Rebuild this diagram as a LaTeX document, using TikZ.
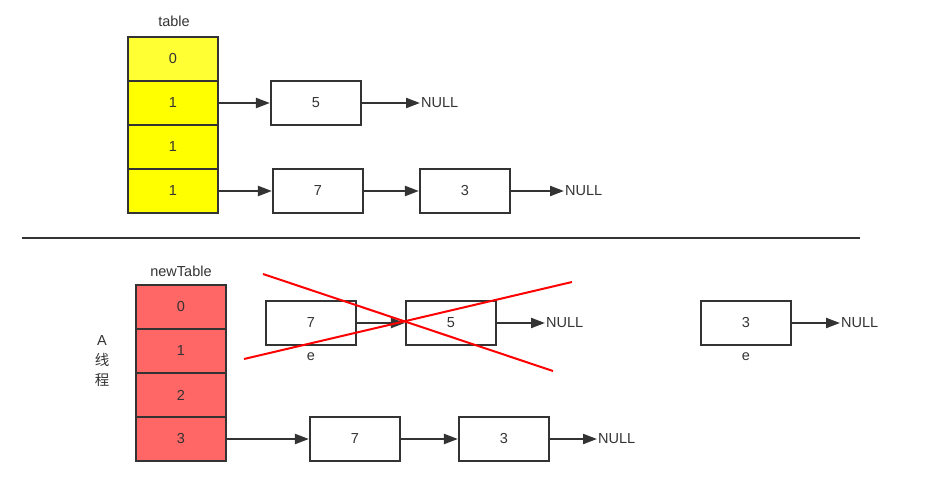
\documentclass[tikz,border=0pt]{standalone}
\usepackage{fontspec}
\setmainfont{Liberation Sans}
\newfontfamily\cjk{Noto Sans CJK SC}
\usetikzlibrary{calc,arrows.meta}
\definecolor{ink}{HTML}{333333}
\definecolor{cellA}{HTML}{FFFF33}
\definecolor{cellB}{HTML}{FFFF00}
\definecolor{cellR}{HTML}{FF6666}
\tikzset{
  cell/.style={draw=ink, line width=2.2pt, minimum width=90pt, minimum height=44pt, inner sep=0pt, text=ink},
  entry/.style={draw=ink, line width=2.2pt, fill=white, minimum width=90pt, minimum height=44pt, inner sep=0pt, text=ink},
  lbl/.style={text=ink, inner sep=1pt},
  link/.style={draw=ink, line width=2.2pt, -{Triangle[length=14pt,width=10pt]}},
}
\begin{document}
\begin{tikzpicture}[x=1pt, y=-1pt, font=\fontsize{14.5}{17}\selectfont]
\useasboundingbox (0,0) rectangle (931,494);
% table before resize
\node[lbl] (tname) at (174,21) {table};
\node[cell, fill=cellA] (t0) at (173,59) {0};
\node[cell, fill=cellB] (t1) at (173,103) {1};
\node[cell, fill=cellB] (t2) at (173,147) {1};
\node[cell, fill=cellB] (t3) at (173,191) {1};
\node[entry] (a5) at (316,103) {5};
\node[lbl, anchor=west] (n1) at (420,103) {NULL};
\node[entry] (a7) at (318,191) {7};
\node[entry] (a3) at (465,191) {3};
\node[lbl, anchor=west] (n2) at (564,191) {NULL};
\draw[link] (t1.east) -- (a5.west);
\draw[link] (a5.east) -- (n1.west);
\draw[link] (t3.east) -- (a7.west);
\draw[link] (a7.east) -- (a3.west);
\draw[link] (a3.east) -- (n2.west);
% separator
\draw[ink, line width=2.2pt] (22,238) -- (860,238);
% newTable
\node[lbl] (nname) at (181,271) {newTable};
\node[lbl, align=center, font=\fontsize{14.5}{20}\selectfont] (thr) at (102,361) {A\\{\cjk 线}\\{\cjk 程}};
\node[cell, fill=cellR] (r0) at (181,307) {0};
\node[cell, fill=cellR] (r1) at (181,351) {1};
\node[cell, fill=cellR] (r2) at (181,395) {2};
\node[cell, fill=cellR] (r3) at (181,439) {3};
\node[entry] (b7) at (311,323) {7};
\node[lbl] (e1) at (311,357) {e};
\node[entry] (b5) at (451,323) {5};
\node[lbl, anchor=west] (n3) at (545,323) {NULL};
\node[entry] (c3) at (746,323) {3};
\node[lbl] (e2) at (746,357) {e};
\node[lbl, anchor=west] (n4) at (840,323) {NULL};
\node[entry] (d7) at (355,439) {7};
\node[entry] (d3) at (504,439) {3};
\node[lbl, anchor=west] (n5) at (597,439) {NULL};
\draw[link] (b7.east) -- (b5.west);
\draw[link] (b5.east) -- (n3.west);
\draw[link] (c3.east) -- (n4.west);
\draw[link] (r3.east) -- (d7.west);
\draw[link] (d7.east) -- (d3.west);
\draw[link] (d3.east) -- (n5.west);
% crossed out
\draw[red, line width=2pt] (263,274) -- (553,371);
\draw[red, line width=2pt] (244,359) -- (572,282);
\end{tikzpicture}
\end{document}
